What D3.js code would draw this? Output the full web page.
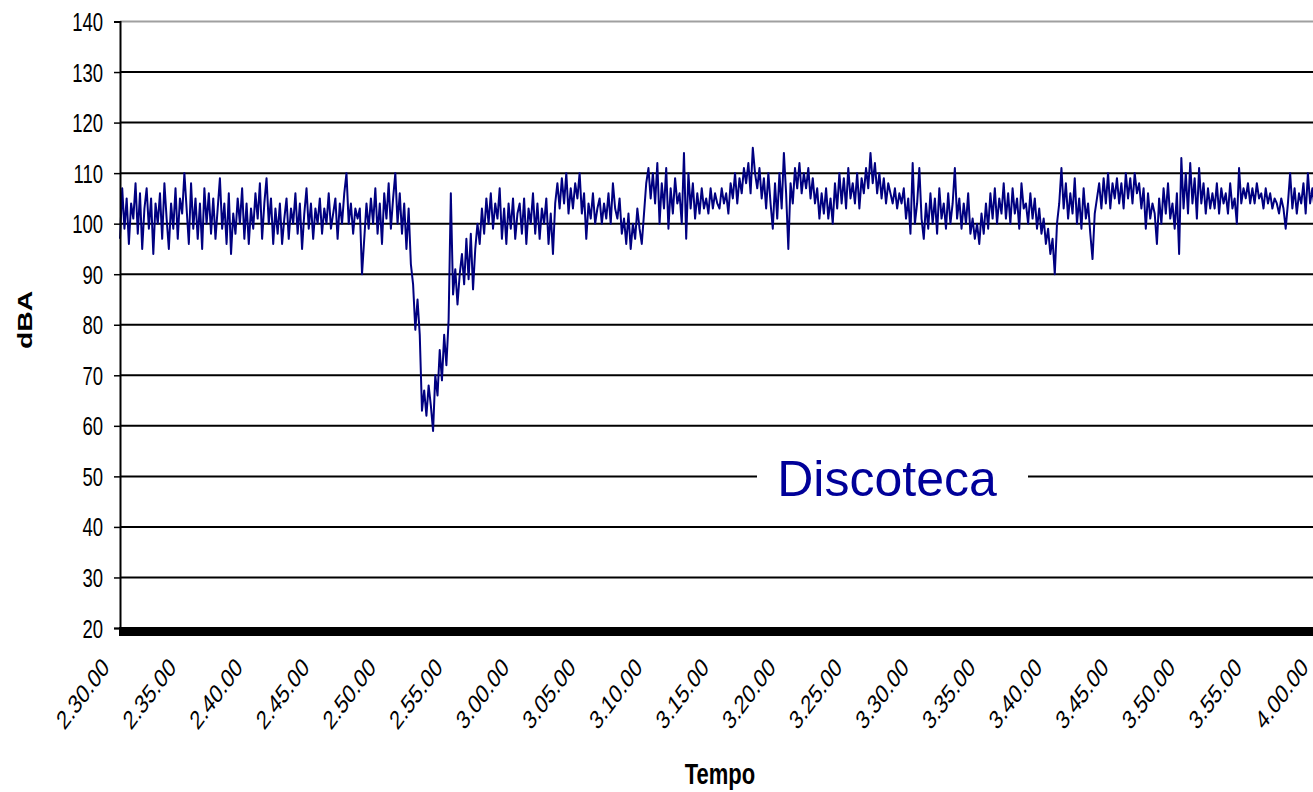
<!DOCTYPE html>
<html>
<head>
<meta charset="utf-8">
<script src="https://cdn.jsdelivr.net/npm/d3@7"></script>
<style>
  body { margin: 0; background: #fff; }
  svg text { font-family: Arial, "Liberation Sans", sans-serif; }
</style>
</head>
<body>
<svg id="chart" width="1313" height="792"></svg>
<script>
// Sound level, one reading every 10 s from 2.30.00 to 4.00.00 (one row = 5 minutes)
const timeLabels = ["2.30.00", "2.35.00", "2.40.00", "2.45.00", "2.50.00", "2.55.00", "3.00.00",
  "3.05.00", "3.10.00", "3.15.00", "3.20.00", "3.25.00", "3.30.00", "3.35.00", "3.40.00",
  "3.45.00", "3.50.00", "3.55.00", "4.00.00"];
const yTicks = [20, 30, 40, 50, 60, 70, 80, 90, 100, 110, 120, 130, 140];
const sampleSeconds = 10;
const dba = [
  97,107,99,105,96,104, 101,108,98,106,95,103, 107,99,105,94,104,100, 106,97,108,101,95,104, 99,107,97,105,102,110,
  103,96,108,99,105,97, 104,95,107,100,106,98, 105,97,103,109,99,104, 96,106,94,102,98,105, 100,107,97,104,96,103,
  99,106,101,108,97,104, 109,100,105,96,103,98, 104,96,101,105,97,103, 100,106,98,104,95,102, 107,99,104,97,103,100,
  105,98,103,100,106,99, 102,105,97,104,100,106, 110,100,104,98,103,101, 103,90,97,104,99,105, 100,107,98,104,96,106,
  101,108,99,105,110,100, 106,98,104,95,103,92, 88,79,85,78,63,67, 62,68,64,59,70,66, 75,69,78,72,81,106,
  86,91,84,90,94,88, 97,89,98,87,95,100, 96,103,98,105,100,106, 99,104,101,107,97,103, 96,104,99,105,97,102,
  104,98,105,96,103,100, 106,98,104,97,103,100, 105,96,102,94,104,108, 103,109,104,110,102,107, 103,108,105,110,102,106,
  97,104,101,106,100,103, 105,100,104,101,106,100, 108,103,101,105,98,101, 96,102,95,100,97,103, 99,96,102,108,111,105,
  110,104,112,100,108,103, 111,99,107,102,109,104, 106,100,114,97,110,103, 108,101,106,102,107,103, 105,102,107,103,106,104,
  103,107,104,106,102,108, 105,110,104,109,106,111, 108,112,106,115,110,107, 111,105,109,103,110,104, 99,108,101,110,103,114,
  106,95,108,104,111,107, 112,106,110,107,111,105, 109,104,107,101,106,102, 107,101,105,100,108,103, 110,104,109,103,111,105,
  108,104,110,103,109,106, 111,107,114,108,112,106, 110,105,109,104,108,106, 104,107,103,106,104,107, 101,105,98,112,100,104,
  111,101,97,104,99,106, 100,105,98,107,101,104, 99,106,100,104,111,101, 105,99,104,100,106,98, 101,97,100,96,102,98,
  104,99,106,101,107,100, 105,102,108,101,106,100, 107,102,105,99,108,103, 104,100,106,101,105,99, 103,98,101,96,99,94,
  97,90,100,104,111,103, 108,101,106,102,109,100, 105,99,107,101,104,98, 93,102,105,108,103,109, 104,110,103,108,105,109,
  104,108,103,110,105,109, 104,110,106,108,103,107, 99,106,101,104,102,96, 105,100,107,102,108,101, 104,99,106,94,113,103,
  110,102,112,104,109,101, 111,104,108,102,107,103, 106,103,108,102,107,104, 106,102,108,103,105,100, 111,104,107,105,108,104,
  107,104,108,105,106,103, 107,104,106,103,105,104, 102,105,103,99,104,110, 103,107,102,106,104,108, 102,110,104,107,103,106,
  104
];
const seriesLabel = "Discoteca";

const svg = d3.select("#chart");
const stretch = 1.35; // the source text is drawn tall

const x = d3.scaleLinear().domain([0, 90 * 60]).range([120, 1319]);
const y = d3.scaleLinear().domain([20, 140]).range([628, 21.5]);

// gridlines
svg.append("g")
  .selectAll("line")
  .data(yTicks.filter(d => d > 20))
  .enter()
  .append("line")
  .attr("x1", 120).attr("x2", 1313)
  .attr("y1", d => y(d)).attr("y2", d => y(d))
  .attr("stroke", d => d === 140 ? "#a0a0a0" : "#000")
  .attr("stroke-width", 2);

// series label on a white patch over the 50 line
svg.append("rect")
  .attr("x", 757).attr("y", y(50) - 12)
  .attr("width", 271).attr("height", 24)
  .attr("fill", "#fff");
svg.append("text")
  .attr("x", 887).attr("y", 496)
  .attr("text-anchor", "middle")
  .attr("font-size", 50)
  .attr("fill", "#000099")
  .text(seriesLabel);

// data line
const line = d3.line()
  .x((d, i) => x(i * sampleSeconds))
  .y(d => y(d));
svg.append("path")
  .datum(dba)
  .attr("d", line)
  .attr("fill", "none")
  .attr("stroke", "#000080")
  .attr("stroke-width", 2)
  .attr("stroke-linejoin", "round");

// y axis
const yAxis = svg.append("g")
  .attr("transform", "translate(120,0)")
  .call(d3.axisLeft(y).tickValues(yTicks).tickSize(6).tickPadding(0));
yAxis.select(".domain").attr("stroke", "#000").attr("stroke-width", 2);
yAxis.selectAll(".tick line").attr("stroke", "#000").attr("stroke-width", 1.5);
yAxis.selectAll(".tick text")
  .attr("x", -17).attr("dy", "0.36em")
  .attr("font-size", 18.5)
  .attr("fill", "#000")
  .attr("transform", `scale(1,${stretch})`);

// x axis: thick base plus rotated time labels
svg.append("line")
  .attr("x1", 119).attr("x2", 1313)
  .attr("y1", y(20) + 3.5).attr("y2", y(20) + 3.5)
  .attr("stroke", "#000").attr("stroke-width", 9);

const xAxis = svg.append("g")
  .attr("transform", `translate(0,${y(20)})`)
  .call(d3.axisBottom(x)
    .tickValues(timeLabels.map((d, i) => i * 300))
    .tickFormat((d, i) => timeLabels[i])
    .tickSize(0));
xAxis.select(".domain").remove();
xAxis.selectAll(".tick text")
  .attr("y", 0).attr("dy", 0)
  .attr("font-size", 19.5)
  .attr("fill", "#000")
  .attr("text-anchor", "end")
  .attr("transform", `translate(-10,41) scale(1,${stretch}) rotate(-45)`);

// axis titles
svg.append("text")
  .attr("transform", `translate(720,784) scale(1,${stretch})`)
  .attr("text-anchor", "middle")
  .attr("font-size", 22).attr("font-weight", "bold")
  .text("Tempo");
svg.append("text")
  .attr("transform", `translate(32,320) scale(1,${stretch}) rotate(-90)`)
  .attr("text-anchor", "middle")
  .attr("font-size", 21).attr("font-weight", "bold")
  .text("dBA");
</script>
</body>
</html>
